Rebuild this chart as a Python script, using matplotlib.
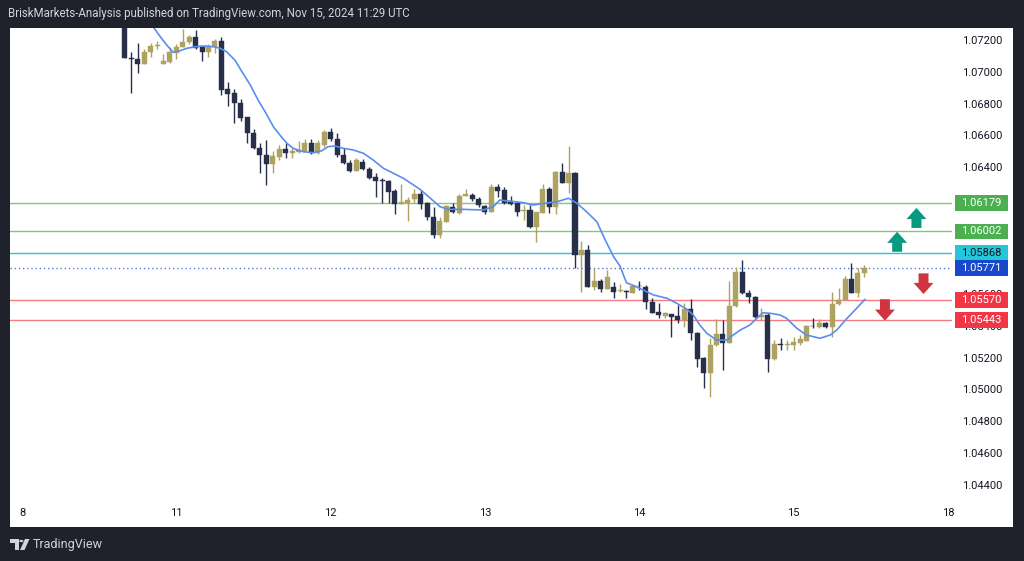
import matplotlib
matplotlib.use('Agg')
import matplotlib.pyplot as plt
import matplotlib.transforms as mtransforms
from matplotlib.patches import Rectangle, Polygon, Circle, FancyArrow
import numpy as np

W, H = 1024, 561

# ---------------- data (hourly EURUSD candles) ----------------
first_index = 16  # hour index of first visible candle (0 = Nov 8 00:00)
opens = [1.07350, 1.07092, 1.07085, 1.07057, 1.07130, 1.07170, 1.07055, 1.07070, 1.07122, 1.07164,
         1.07192, 1.07227, 1.07164, 1.07130, 1.07164, 1.07202, 1.06896, 1.06871, 1.06812, 1.06720,
         1.06623, 1.06525, 1.06482, 1.06426, 1.06472, 1.06518, 1.06493, 1.06503, 1.06510, 1.06556,
         1.06493, 1.06545, 1.06629, 1.06581, 1.06482, 1.06434, 1.06383, 1.06440, 1.06392, 1.06346,
         1.06320, 1.06318, 1.06256, 1.06174, 1.06182, 1.06203, 1.06237, 1.06178, 1.06090, 1.05979,
         1.06062, 1.06157, 1.06119, 1.06224, 1.06230, 1.06203, 1.06161, 1.06126, 1.06283, 1.06262,
         1.06192, 1.06178, 1.06130, 1.06136, 1.06027, 1.06119, 1.06266, 1.06153, 1.06377, 1.06308,
         1.06367, 1.05853, 1.05884, 1.05653, 1.05690, 1.05637, 1.05653, 1.05626, 1.05628, 1.05615,
         1.05657, 1.05653, 1.05559, 1.05496, 1.05468, 1.05481, 1.05469, 1.05443, 1.05511, 1.05360,
         1.05202, 1.05108, 1.05286, 1.05355, 1.05301, 1.05532, 1.05747, 1.05615, 1.05590, 1.05464,
         1.05475, 1.05196, 1.05292, 1.05286, 1.05286, 1.05301, 1.05313, 1.05406, 1.05399, 1.05426,
         1.05397, 1.05544, 1.05569, 1.05700, 1.05611, 1.05737]
highs = [1.07360, 1.07129, 1.07186, 1.07150, 1.07190, 1.07200, 1.07120, 1.07160, 1.07181, 1.07274,
         1.07240, 1.07270, 1.07164, 1.07181, 1.07210, 1.07223, 1.06944, 1.06896, 1.06837, 1.06723,
         1.06644, 1.06560, 1.06577, 1.06509, 1.06545, 1.06560, 1.06528, 1.06572, 1.06580, 1.06581,
         1.06577, 1.06640, 1.06650, 1.06619, 1.06525, 1.06450, 1.06463, 1.06455, 1.06405, 1.06367,
         1.06335, 1.06327, 1.06266, 1.06300, 1.06220, 1.06266, 1.06262, 1.06188, 1.06157, 1.06094,
         1.06170, 1.06178, 1.06237, 1.06266, 1.06240, 1.06216, 1.06170, 1.06300, 1.06300, 1.06283,
         1.06224, 1.06188, 1.06167, 1.06167, 1.06125, 1.06300, 1.06283, 1.06383, 1.06434, 1.06539,
         1.06377, 1.05943, 1.05916, 1.05769, 1.05700, 1.05758, 1.05685, 1.05670, 1.05632, 1.05662,
         1.05690, 1.05664, 1.05581, 1.05552, 1.05496, 1.05481, 1.05538, 1.05549, 1.05574, 1.05370,
         1.05212, 1.05328, 1.05448, 1.05443, 1.05690, 1.05779, 1.05821, 1.05632, 1.05597, 1.05517,
         1.05485, 1.05317, 1.05328, 1.05317, 1.05334, 1.05350, 1.05412, 1.05454, 1.05448, 1.05433,
         1.05622, 1.05643, 1.05720, 1.05803, 1.05771, 1.05789]
lows = [1.07090, 1.06870, 1.06997, 1.07055, 1.07100, 1.07150, 1.07053, 1.07060, 1.07085, 1.07164,
        1.07180, 1.07148, 1.07076, 1.07100, 1.07126, 1.06860, 1.06791, 1.06682, 1.06694, 1.06556,
        1.06520, 1.06371, 1.06293, 1.06371, 1.06450, 1.06461, 1.06461, 1.06497, 1.06500, 1.06489,
        1.06489, 1.06530, 1.06570, 1.06470, 1.06426, 1.06378, 1.06380, 1.06386, 1.06330, 1.06220,
        1.06178, 1.06178, 1.06111, 1.06172, 1.06069, 1.06178, 1.06140, 1.06076, 1.05958, 1.05958,
        1.06062, 1.06115, 1.06111, 1.06224, 1.06195, 1.06153, 1.06111, 1.06126, 1.06216, 1.06174,
        1.06170, 1.06098, 1.06073, 1.06020, 1.05936, 1.06119, 1.06119, 1.06111, 1.06304, 1.06241,
        1.05769, 1.05622, 1.05653, 1.05632, 1.05622, 1.05637, 1.05580, 1.05618, 1.05580, 1.05611,
        1.05632, 1.05511, 1.05485, 1.05454, 1.05454, 1.05338, 1.05422, 1.05399, 1.05317, 1.05149,
        1.05013, 1.04960, 1.05280, 1.05129, 1.05301, 1.05527, 1.05607, 1.05553, 1.05454, 1.05443,
        1.05118, 1.05192, 1.05254, 1.05252, 1.05254, 1.05286, 1.05313, 1.05390, 1.05390, 1.05390,
        1.05334, 1.05538, 1.05569, 1.05611, 1.05586, 1.05711]
closes = [1.07093, 1.07088, 1.07057, 1.07133, 1.07170, 1.07178, 1.07076, 1.07129, 1.07164, 1.07196,
          1.07227, 1.07158, 1.07133, 1.07168, 1.07202, 1.06892, 1.06866, 1.06808, 1.06713, 1.06619,
          1.06525, 1.06482, 1.06426, 1.06476, 1.06518, 1.06493, 1.06510, 1.06514, 1.06560, 1.06493,
          1.06560, 1.06629, 1.06581, 1.06482, 1.06430, 1.06383, 1.06450, 1.06392, 1.06336, 1.06320,
          1.06317, 1.06251, 1.06174, 1.06188, 1.06199, 1.06237, 1.06174, 1.06090, 1.05979, 1.06069,
          1.06161, 1.06126, 1.06224, 1.06235, 1.06203, 1.06167, 1.06126, 1.06283, 1.06258, 1.06182,
          1.06174, 1.06125, 1.06136, 1.06027, 1.06125, 1.06266, 1.06153, 1.06377, 1.06308, 1.06367,
          1.05853, 1.05884, 1.05653, 1.05690, 1.05637, 1.05712, 1.05618, 1.05628, 1.05622, 1.05657,
          1.05655, 1.05559, 1.05490, 1.05475, 1.05485, 1.05464, 1.05443, 1.05511, 1.05360, 1.05196,
          1.05108, 1.05286, 1.05355, 1.05301, 1.05532, 1.05747, 1.05611, 1.05590, 1.05464, 1.05475,
          1.05196, 1.05292, 1.05286, 1.05292, 1.05307, 1.05322, 1.05406, 1.05403, 1.05426, 1.05397,
          1.05544, 1.05569, 1.05700, 1.05615, 1.05737, 1.05771]

# moving average line (at hour-index positions)
ma_index = [20.2, 21.5, 22.5, 23.5, 24.6, 25.6, 26.9, 28.2, 29.8, 30.8, 31.8, 33.1, 34.2, 35.5,
            36.7, 37.8, 39.1, 40.1, 41.2, 42.2, 43.7, 45.3, 46.6, 47.6, 48.7, 50.0, 51.5, 53.1,
            54.6, 56.2, 59.3, 61.9, 63.5, 65.0, 66.3, 68.6, 71.7, 73.3, 74.3, 75.4, 76.7, 78.0,
            79.5, 81.1, 83.2, 85.0, 86.3, 87.8, 89.4, 90.7, 92.0, 93.0, 94.0, 95.3, 96.6, 98.2,
            100.3, 101.8, 103.4, 104.4, 105.4, 106.5, 108.0, 109.6, 110.6, 111.7, 113.2, 114.3,
            115.2, 116.3, 117.9, 118.9, 120.5, 122.0, 124.1, 125.7, 126.7, 128.3, 129.8, 131.1]
ma_values = [1.07301, 1.07227, 1.07175, 1.07129, 1.07139, 1.07154, 1.07164, 1.07169, 1.07164,
             1.07154, 1.07133, 1.07080, 1.07007, 1.06923, 1.06829, 1.06755, 1.06660, 1.06608,
             1.06556, 1.06524, 1.06503, 1.06497, 1.06509, 1.06535, 1.06539, 1.06524, 1.06514,
             1.06493, 1.06451, 1.06399, 1.06336, 1.06266, 1.06210, 1.06157, 1.06140, 1.06140,
             1.06136, 1.06157, 1.06199, 1.06193, 1.06188, 1.06182, 1.06167, 1.06178, 1.06188,
             1.06210, 1.06178, 1.06125, 1.06062, 1.05947, 1.05842, 1.05783, 1.05678, 1.05657,
             1.05632, 1.05601, 1.05580, 1.05549, 1.05511, 1.05475, 1.05412, 1.05360, 1.05317,
             1.05317, 1.05349, 1.05380, 1.05412, 1.05454, 1.05489, 1.05486, 1.05475, 1.05454,
             1.05391, 1.05349, 1.05328, 1.05349, 1.05380, 1.05454, 1.05517, 1.05574]

day_positions = [0, 24, 48, 72, 96, 120, 144]
day_labels = ['8', '11', '12', '13', '14', '15', '18']
# price-scale labels that are visible (others are hidden behind the level tags)
price_ticks = [1.072, 1.070, 1.068, 1.066, 1.064, 1.056, 1.054,
               1.052, 1.050, 1.048, 1.046, 1.044]

support_resistance = [1.06179, 1.06002, 1.05868, 1.05570, 1.05443]
last_price = 1.05771

# up/down arrows drawn on the chart: (hour index, base price, tip price)
up_arrows = [(139.1, 1.06023, 1.06149), (136.1, 1.05873, 1.05999)]
down_arrows = [(140.2, 1.05737, 1.05607), (134.2, 1.05574, 1.05439)]

# ---------------- styling ----------------
BG = '#1f222b'
BULL = '#ada25f'
BEAR = '#283049'
FONT = ['Roboto', 'DejaVu Sans']
plt.rcParams['font.family'] = FONT

fig = plt.figure(figsize=(W / 100, H / 100), dpi=100, facecolor=BG)


def fx(x):
    return x / W


def fy(y):
    return 1 - y / H


# white panel (behind the axes)
fig.patches.append(Rectangle((fx(10), fy(527)), fx(1013) - fx(10), fy(28) - fy(527),
                             transform=fig.transFigure, facecolor='white', edgecolor='none', zorder=-5))

ax = fig.add_axes([fx(10), fy(500), (952 - 10) / W, (500 - 28) / H])
ax.set_zorder(1)
ax.set_facecolor('white')
ax.set_xlim(-1.87, 144.63)
ax.set_ylim(1.0431, 1.07282)
for s in ax.spines.values():
    s.set_visible(False)
ax.set_xticks([])
ax.set_yticks([])

# horizontal levels
level_colors = ['#81c784', '#81c784', '#26c6da', '#f77c80', '#f77c80']
for lv, col in zip(support_resistance, level_colors):
    ax.axhline(lv, color=col, lw=1.0, zorder=1)
ax.axhline(last_price, color='#5a78d8', lw=1.0, ls=(0, (1, 2)), zorder=1)

# candles
o = np.array(opens); h = np.array(highs); l = np.array(lows); c = np.array(closes)
x = np.arange(first_index, first_index + len(o))
up = c >= o
cols = np.where(up, BULL, BEAR)
ax.vlines(x, l, h, colors=cols, lw=1.0, zorder=3)
body_bottom = np.minimum(o, c)
body_h = np.maximum(np.abs(c - o), 0.00005)
ax.bar(x, body_h, bottom=body_bottom, width=0.78, color=cols, edgecolor=cols, lw=0.3, zorder=4)

# moving average
ax.plot(ma_index, ma_values, color='#5b8def', lw=1.2, zorder=5, solid_capstyle='round')

# arrows
for xi, base, tip in up_arrows:
    ax.add_patch(FancyArrow(xi, base, 0, tip - base, width=1.55, head_width=3.1,
                            head_length=0.00070, length_includes_head=True,
                            color='#089981', lw=0, zorder=6))
for xi, base, tip in down_arrows:
    ax.add_patch(FancyArrow(xi, base, 0, tip - base, width=1.55, head_width=3.1,
                            head_length=0.00070, length_includes_head=True,
                            color='#d0353f', lw=0, zorder=6))

# price axis
trans_py = mtransforms.blended_transform_factory(fig.transFigure, ax.transData)
for p in price_ticks:
    fig.text(fx(982), p, f'{p:.5f}', transform=trans_py, ha='center', va='center',
             fontsize=8, color='#131722', zorder=2)

label_fc = ['#4caf50', '#4caf50', '#26c6da', '#f23645', '#f23645']
label_tc = ['white', 'white', '#131722', 'white', 'white']
box_h = 0.00098
all_levels = support_resistance + [last_price]
all_fc = label_fc + ['#1848cc']
all_tc = label_tc + ['white']
for lv, fc, tc in zip(all_levels, all_fc, all_tc):
    fig.patches.append(Rectangle((fx(955), lv - box_h / 2), fx(1008) - fx(955), box_h,
                                 transform=trans_py, facecolor=fc, edgecolor='none', zorder=3))
    fig.text(fx(981.5), lv, f'{lv:.5f}', transform=trans_py, ha='center', va='center',
             fontsize=8, color=tc, zorder=4)

# time axis
trans_xt = mtransforms.blended_transform_factory(ax.transData, fig.transFigure)
for pos, lab in zip(day_positions, day_labels):
    fig.text(pos, fy(513), lab, transform=trans_xt, ha='center', va='center',
             fontsize=8, color='#131722')

# header
fig.text(fx(8), fy(14), 'BriskMarkets-Analysis published on TradingView.com, Nov 15, 2024 11:29 UTC',
         ha='left', va='center', fontsize=8.3, color='#d1d4dc')

# footer logo
def pxpoly(pts):
    return [(fx(a), fy(b)) for a, b in pts]

fig.patches.append(Polygon(pxpoly([(10, 539), (18.5, 539), (18.5, 550), (14.5, 550), (14.5, 543), (10, 543)]),
                           closed=True, transform=fig.transFigure, facecolor='#d1d4dc', edgecolor='none'))
fig.patches.append(Circle((fx(21.3), fy(541)), 2.1 / W, transform=fig.transFigure,
                          facecolor='#d1d4dc', edgecolor='none'))
fig.patches.append(Polygon(pxpoly([(25, 539), (29.5, 539), (24.5, 550), (20, 550)]),
                           closed=True, transform=fig.transFigure, facecolor='#d1d4dc', edgecolor='none'))
fig.text(fx(33), fy(544.5), 'TradingView', ha='left', va='center', fontsize=9, color='#d1d4dc')

fig.savefig('out.png', dpi=100, facecolor=BG)
